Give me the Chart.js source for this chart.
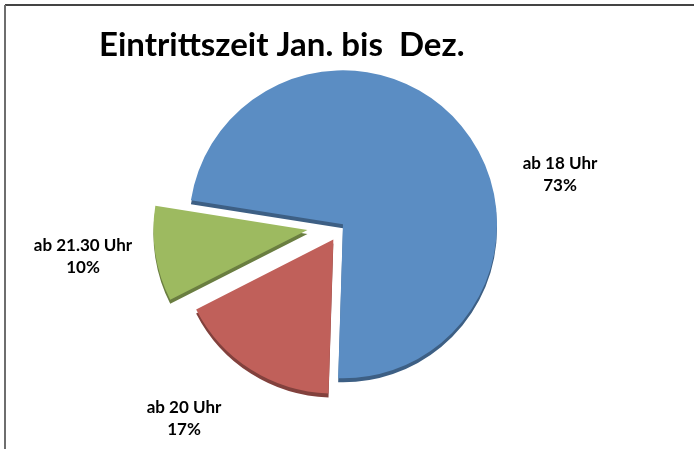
<!DOCTYPE html>
<html>
<head>
<meta charset="utf-8">
<script src="https://cdn.jsdelivr.net/npm/chart.js@4/dist/chart.umd.min.js"></script>
<style>
  html, body { margin: 0; padding: 0; background: #fff; }
  #wrap { position: relative; width: 694px; height: 449px; }
</style>
</head>
<body>
<div id="wrap"><canvas id="pie"></canvas></div>
<script>
// --- data ---
const categories = ['ab 18 Uhr', 'ab 20 Uhr', 'ab 21.30 Uhr'];
const shares = [73, 17, 10];
const valueLabels = ['73%', '17%', '10%'];

// --- styles ---
const sliceColors = ['#5B8DC3', '#C0605A', '#9DBA60'];
const explode = [0, 18, 36];              // px pulled out along the slice's middle angle
const labelOffsets = [[217, -50], [-159, 194], [-260, 32]]; // label block centre, from pie centre
const FONT = 'Lato, "Open Sans", sans-serif';

// frame + white background
const framePlugin = {
    id: 'frame',
    beforeDraw(chart) {
        const ctx = chart.ctx;
        ctx.save();
        ctx.fillStyle = '#fff';
        ctx.fillRect(0, 0, chart.width, chart.height);
        ctx.lineWidth = 2;
        ctx.strokeStyle = '#444';
        ctx.beginPath();
        ctx.moveTo(5, 5);
        ctx.lineTo(chart.width, 5);
        ctx.stroke();
        ctx.strokeStyle = '#6e6e6e';
        ctx.beginPath();
        ctx.moveTo(5, 5);
        ctx.lineTo(5, chart.height);
        ctx.stroke();
        ctx.restore();
    }
};

// pull slices out like an exploded excel pie
const explodePlugin = {
    id: 'explode',
    afterDatasetUpdate(chart, args) {
        const meta = chart.getDatasetMeta(args.index);
        meta.data.forEach((arc, i) => {
            const mid = (arc.startAngle + arc.endAngle) / 2;
            arc.x += Math.cos(mid) * explode[i];
            arc.y += Math.sin(mid) * explode[i];
        });
    },
    // darker copy underneath gives the 3d thickness
    beforeDatasetsDraw(chart) {
        const ctx = chart.ctx;
        ctx.save();
        ctx.translate(0, 4);
        ctx.filter = 'brightness(0.68)';
        chart.getDatasetMeta(0).data.forEach(arc => arc.draw(ctx));
        ctx.restore();
    }
};

const labelPlugin = {
    id: 'sliceLabels',
    afterDatasetsDraw(chart) {
        const ctx = chart.ctx;
        const area = chart.chartArea;
        const cx = (area.left + area.right) / 2;
        const cy = (area.top + area.bottom) / 2;
        ctx.save();
        ctx.font = 'bold 17px ' + FONT;
        ctx.fillStyle = '#000';
        ctx.textAlign = 'center';
        ctx.textBaseline = 'middle';
        categories.forEach((cat, i) => {
            const x = cx + labelOffsets[i][0];
            const y = cy + labelOffsets[i][1];
            ctx.fillText(cat, x, y - 11);
            ctx.fillText(valueLabels[i], x, y + 11);
        });
        ctx.restore();
    }
};

new Chart(document.getElementById('pie'), {
    type: 'pie',
    data: {
        labels: categories,
        datasets: [{
            data: shares,
            backgroundColor: sliceColors,
            borderWidth: 0,
            clip: false
        }]
    },
    options: {
        responsive: true,
        maintainAspectRatio: false,
        animation: false,
        rotation: -81,
        radius: 154,
        layout: { padding: { left: 99, right: 107, top: 0, bottom: 76 } },
        plugins: {
            legend: { display: false },
            tooltip: { enabled: false },
            title: {
                display: true,
                text: 'Eintrittszeit Jan. bis  Dez.',
                align: 'start',
                color: '#000',
                font: { family: FONT, size: 33, weight: 'bold', lineHeight: 1.2 },
                padding: { top: 26, bottom: 10 }
            }
        }
    },
    plugins: [framePlugin, explodePlugin, labelPlugin]
});
</script>
</body>
</html>
